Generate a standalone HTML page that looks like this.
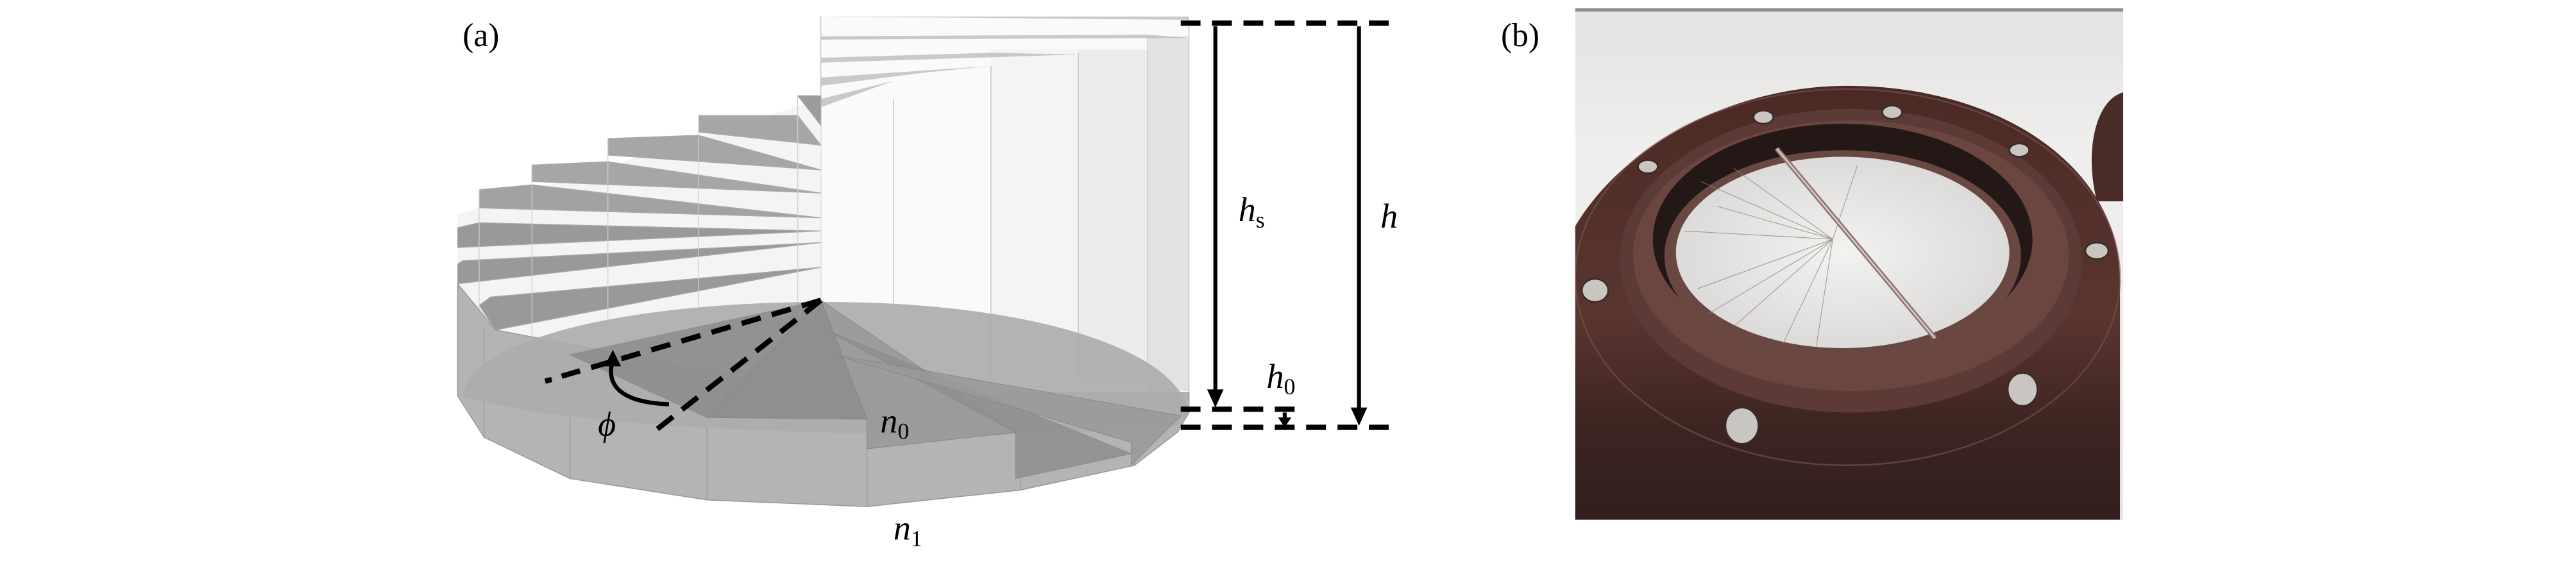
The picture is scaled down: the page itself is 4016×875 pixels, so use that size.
<!DOCTYPE html>
<html><head><meta charset="utf-8"><style>
html,body{margin:0;padding:0;background:#fff}
svg{display:block}
text{font-family:"Liberation Serif",serif}
</style></head><body>
<svg width="4016" height="875" viewBox="0 0 1560 340" xmlns="http://www.w3.org/2000/svg">
<defs>
<radialGradient id="win" cx="0.5" cy="0.5" r="0.6"><stop offset="0" stop-color="#f2f2f0"/><stop offset="1" stop-color="#d8d6d4"/></radialGradient>
<linearGradient id="bg" x1="0" y1="0" x2="0" y2="1"><stop offset="0" stop-color="#e4e3e1"/><stop offset="0.3" stop-color="#f0efee"/><stop offset="1" stop-color="#e8e7e5"/></linearGradient>
<linearGradient id="brown" x1="0" y1="0" x2="0" y2="1"><stop offset="0" stop-color="#4a2a24"/><stop offset="0.5" stop-color="#5a3530"/><stop offset="0.75" stop-color="#3c2420"/><stop offset="1" stop-color="#2e1e1c"/></linearGradient>
</defs>
<rect width="1560" height="340" fill="#fff"/>
<text x="280" y="28" font-size="20">(a)</text>
<text x="909" y="28" font-size="20">(b)</text>

<!-- back columns -->
<rect x="497" y="10" width="223" height="230" fill="#fafafa"/>
<rect x="600" y="30" width="53" height="200" fill="#f4f4f4"/>
<rect x="653" y="30" width="42" height="200" fill="#ececec"/>
<rect x="695" y="22" width="25" height="215" fill="#e2e2e2"/>
<g stroke="#c8c8c8" stroke-width="0.6">
<line x1="497" y1="10" x2="497" y2="240"/><line x1="541" y1="60" x2="541" y2="235"/>
<line x1="600" y1="40" x2="600" y2="230"/><line x1="653" y1="32" x2="653" y2="230"/>
<line x1="695" y1="22" x2="695" y2="235"/><line x1="720" y1="12" x2="720" y2="240"/>
</g>
<g fill="#bdbdbd" opacity="0.8">
<polygon points="497,10 720,10 720,12"/>
<polygon points="497,22 695,21 720,23 497,24"/>
<polygon points="497,35 600,32 653,33 497,38"/>
<polygon points="497,47 600,40 560,44 497,52"/>
<polygon points="497,60 541,49 497,65"/>
</g>
<!-- back step risers (light) -->
<polygon points="277,130 497,60 497,200 277,240" fill="#f4f4f4"/>
<!-- back steps -->
<g stroke="#aaa" stroke-width="0.5">
<polygon points="483,58 497,58 497,76" fill="#9c9c9c"/>
<polygon points="423,70 483,70 497,88 423,80" fill="#a6a6a6"/>
<polygon points="368,84 423,82 497,103 368,94" fill="#a6a6a6"/>
<polygon points="322,100 368,98 497,117 322,110" fill="#a6a6a6"/>
<polygon points="290,115 322,112 497,132 290,126" fill="#a2a2a2"/>
<polygon points="277,138 290,135 497,140 277,150" fill="#999"/>
<polygon points="277,160 280,158 497,147 277,172" fill="#999"/>
<polygon points="290,185 297,180 497,162 300,200" fill="#999"/>
</g>
<g stroke="#cfcfcf" stroke-width="0.5">
<line x1="423" y1="70" x2="423" y2="200"/><line x1="368" y1="84" x2="368" y2="205"/>
<line x1="322" y1="100" x2="322" y2="215"/><line x1="290" y1="115" x2="290" y2="230"/>
<line x1="483" y1="58" x2="483" y2="190"/>
</g>
<!-- skirt -->
<polygon points="277,172 277,240 293,265 345,290 428,303 525,307 618,297 687,282 713,262 720,250 720,238 500,238 300,200" fill="#b4b4b4" stroke="#999" stroke-width="0.6"/>
<g stroke="#999" stroke-width="0.5"><line x1="293" y1="200" x2="293" y2="265"/><line x1="345" y1="215" x2="345" y2="290"/><line x1="428" y1="255" x2="428" y2="303"/><line x1="525" y1="255" x2="525" y2="307"/><line x1="618" y1="265" x2="618" y2="297"/><line x1="687" y1="255" x2="687" y2="282"/></g>
<!-- disk -->
<path d="M280,240 C285,205 380,183 500,183 C620,183 712,210 720,250 L713,258 C640,265 560,265 500,262 C420,260 330,255 280,240 Z" fill="#acacac" opacity="0.92"/>
<!-- front steps -->
<g stroke="#888" stroke-width="0.5">
<polygon points="428,253 497,182 525,254" fill="#8f8f8f"/>
<polygon points="497,182 525,254 525,272 615,262" fill="#9a9a9a" opacity="0.9"/>
<polygon points="500,200 615,262 615,290 685,275" fill="#8f8f8f" opacity="0.85"/>
<polygon points="505,215 685,268 685,282 715,252" fill="#9a9a9a" opacity="0.85"/>
<polygon points="345,215 497,182 428,253" fill="#8a8a8a" opacity="0.8"/>
</g>
<!-- dashed lines on stairs -->
<g stroke="#000" stroke-width="3.2" fill="none">
<line x1="497" y1="182" x2="340" y2="228" stroke-dasharray="12,7"/>
<line x1="330" y1="231" x2="334" y2="230"/>
<line x1="497" y1="182" x2="398" y2="260" stroke-dasharray="12,7"/>
<path d="M371,218 C366,235 378,244 405,245" stroke-width="2.5"/>
</g>
<polygon points="371,212 366,222 376,222" fill="#000"/>
<!-- dimension lines -->
<g stroke="#000" stroke-width="3.2" stroke-dasharray="12,7">
<line x1="715" y1="14" x2="848" y2="14"/>
<line x1="715" y1="248" x2="790" y2="248"/>
<line x1="715" y1="259" x2="848" y2="259"/>
</g>
<g stroke="#000" stroke-width="2.4">
<line x1="736" y1="16" x2="736" y2="238"/>
<line x1="823" y1="16" x2="823" y2="249"/>
<line x1="778" y1="250" x2="778" y2="256"/>
</g>
<polygon points="731,236 741,236 736,247" fill="#000"/>
<polygon points="818,247 828,247 823,258" fill="#000"/>
<polygon points="774,253 782,253 778,259" fill="#000"/>
<text x="750" y="134" font-size="21" font-style="italic">h<tspan font-size="14" font-style="normal" dy="4">s</tspan></text>
<text x="836" y="138" font-size="21" font-style="italic">h</text>
<text x="767" y="235" font-size="21" font-style="italic">h<tspan font-size="14" font-style="normal" dy="4">0</tspan></text>
<text x="533" y="262" font-size="21" font-style="italic">n<tspan font-size="14" font-style="normal" dy="4">0</tspan></text>
<text x="541" y="327" font-size="21" font-style="italic">n<tspan font-size="14" font-style="normal" dy="4">1</tspan></text>
<text x="362" y="264" font-size="21" font-style="italic">ϕ</text>

<!-- photo -->
<svg x="954" y="5" width="332" height="310" viewBox="954 5 332 310">
<rect x="954" y="5" width="332" height="310" fill="url(#bg)"/>
<rect x="954" y="5" width="332" height="2" fill="#555" opacity="0.6"/>
<path d="M1270,122 C1262,90 1270,60 1286,56 L1286,122 Z" fill="#4a2c27"/>
<path d="M940,175 C950,110 1030,52 1119,52 C1210,52 1284,100 1284,170 L1284,330 L940,330 Z" fill="url(#brown)"/>
<ellipse cx="1119" cy="168" rx="165" ry="114" fill="none" stroke="#7a5550" stroke-width="1" opacity="0.6"/>
<ellipse cx="1121" cy="158" rx="140" ry="92" fill="#5c3a35"/>
<ellipse cx="1121" cy="155" rx="132" ry="82" fill="#6b4640"/>
<ellipse cx="1116" cy="145" rx="115" ry="70" fill="#241816"/>
<ellipse cx="1116" cy="155" rx="108" ry="64" fill="#6a4842"/>
<ellipse cx="1116" cy="153" rx="101" ry="58" fill="url(#win)"/>
<g stroke="#8a7f7c" stroke-width="0.4" opacity="0.8">
<line x1="1110" y1="145" x2="1030" y2="110"/><line x1="1110" y1="145" x2="1020" y2="140"/>
<line x1="1110" y1="145" x2="1028" y2="175"/><line x1="1110" y1="145" x2="1050" y2="198"/>
<line x1="1110" y1="145" x2="1080" y2="208"/><line x1="1110" y1="145" x2="1100" y2="210"/>
<line x1="1110" y1="145" x2="1050" y2="102"/><line x1="1110" y1="145" x2="1040" y2="125"/>
<line x1="1110" y1="145" x2="1035" y2="190"/><line x1="1110" y1="145" x2="1125" y2="100"/>
</g>
<line x1="1076" y1="90" x2="1172" y2="205" stroke="#8e7470" stroke-width="3"/>
<line x1="1076" y1="90" x2="1172" y2="205" stroke="#d8cccb" stroke-width="1"/>
<g fill="#c9c6c2" stroke="#3a2a26" stroke-width="1">
<ellipse cx="998" cy="101" rx="6" ry="4"/><ellipse cx="1068" cy="71" rx="6" ry="4"/>
<ellipse cx="1146" cy="68" rx="6" ry="4"/><ellipse cx="1223" cy="91" rx="6" ry="4"/>
<ellipse cx="1270" cy="152" rx="7" ry="5"/><ellipse cx="966" cy="176" rx="8" ry="7"/>
<ellipse cx="1055" cy="258" rx="10" ry="11"/><ellipse cx="1225" cy="236" rx="9" ry="10"/>
</g>
</svg>
</svg>
</body></html>
